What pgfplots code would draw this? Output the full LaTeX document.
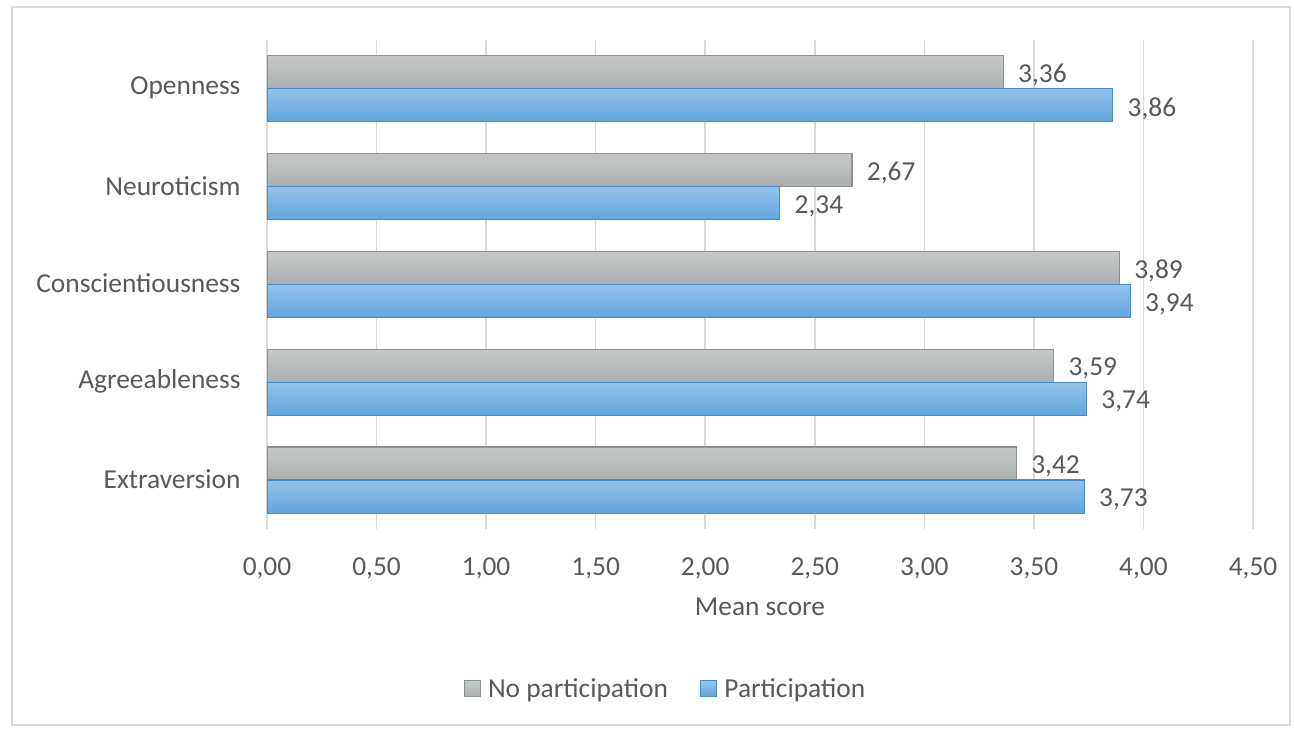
\documentclass[border=0pt]{standalone}
\usepackage{fontspec}
\setmainfont{Carlito}
\usepackage{pgfplots}
\pgfplotsset{compat=1.18}
\definecolor{txt}{HTML}{595959}
\definecolor{gridc}{HTML}{D9D9D9}
\definecolor{grayTop}{HTML}{C4C8C8}
\definecolor{grayBot}{HTML}{A9AEAE}
\definecolor{grayEdge}{HTML}{8C9191}
\definecolor{blueTop}{HTML}{92C3EA}
\definecolor{blueBot}{HTML}{62A5DC}
\definecolor{blueEdge}{HTML}{4A8BCB}
\newcommand\f{\fontsize{27.5}{33}\selectfont}
\pgfplotsset{
  gbar/.style={bar shift=16.5bp, top color=grayTop, bottom color=grayBot, draw=grayEdge, line width=1.2bp},
  bbar/.style={bar shift=-16.5bp, top color=blueTop, bottom color=blueBot, draw=blueEdge, line width=1.2bp},
}
\begin{document}
\begin{tikzpicture}
\useasboundingbox (0bp,0bp) rectangle (1294bp,731bp);
\draw[gridc, line width=2bp] (12bp,6bp) rectangle (1290bp,724bp);
\begin{axis}[
  at={(267bp,202bp)}, anchor=south west,
  scale only axis, width=986bp, height=489bp,
  xmin=0, xmax=4.5, ymin=-0.5, ymax=4.5,
  xbar, bar width=33bp,
  axis lines*=left,
  x axis line style={draw=none},
  y axis line style={draw=gridc, line width=1.5bp},
  major tick length=0,
  xtick={0,0.5,1,1.5,2,2.5,3,3.5,4,4.5},
  xmajorgrids, grid style={gridc, line width=1.5bp},
  ytick={0,1,2,3,4},
  yticklabels={Extraversion,Agreeableness,Conscientiousness,Neuroticism,Openness},
  /pgf/number format/assume math mode=true,
  xticklabel={\pgfmathprintnumber[fixed,fixed zerofill,precision=2,use comma]{\tick}},
  xticklabel style={font=\f, text=txt, yshift=-25bp},
  yticklabel style={font=\f, text=txt, xshift=-23bp, yshift=1bp},
  xlabel={Mean score},
  xlabel style={font=\f, text=txt, at={(axis description cs:0.5,-0.1595)}, anchor=center},
  nodes near coords={\pgfmathprintnumber[fixed,fixed zerofill,precision=2,use comma,assume math mode=true]{\pgfplotspointmeta}},
  every node near coord/.append style={font=\f, text=txt, anchor=west, xshift=11bp, yshift=-3bp},
  legend columns=2,
  legend style={draw=none, fill=none, font=\f, text=txt,
    at={(axis description cs:0.404,-0.327)}, anchor=center,
    /tikz/every even column/.append style={column sep=30bp}},
  legend image code/.code={\path[draw=none,fill=none,shade=none] (0bp,0bp) -- (22bp,0bp);\draw[#1, line width=1bp] (0bp,-8bp) rectangle (16bp,8bp);},
]
\addplot[gbar] coordinates {(3.42,0)};
\addplot[gbar, forget plot] coordinates {(3.59,1)};
\addplot[gbar, forget plot] coordinates {(3.89,2)};
\addplot[gbar, forget plot] coordinates {(2.67,3)};
\addplot[gbar, forget plot] coordinates {(3.36,4)};
\addplot[bbar] coordinates {(3.73,0)};
\addplot[bbar, forget plot] coordinates {(3.74,1)};
\addplot[bbar, forget plot] coordinates {(3.94,2)};
\addplot[bbar, forget plot] coordinates {(2.34,3)};
\addplot[bbar, forget plot] coordinates {(3.86,4)};
\legend{No participation, Participation}
\end{axis}
\end{tikzpicture}
\end{document}
